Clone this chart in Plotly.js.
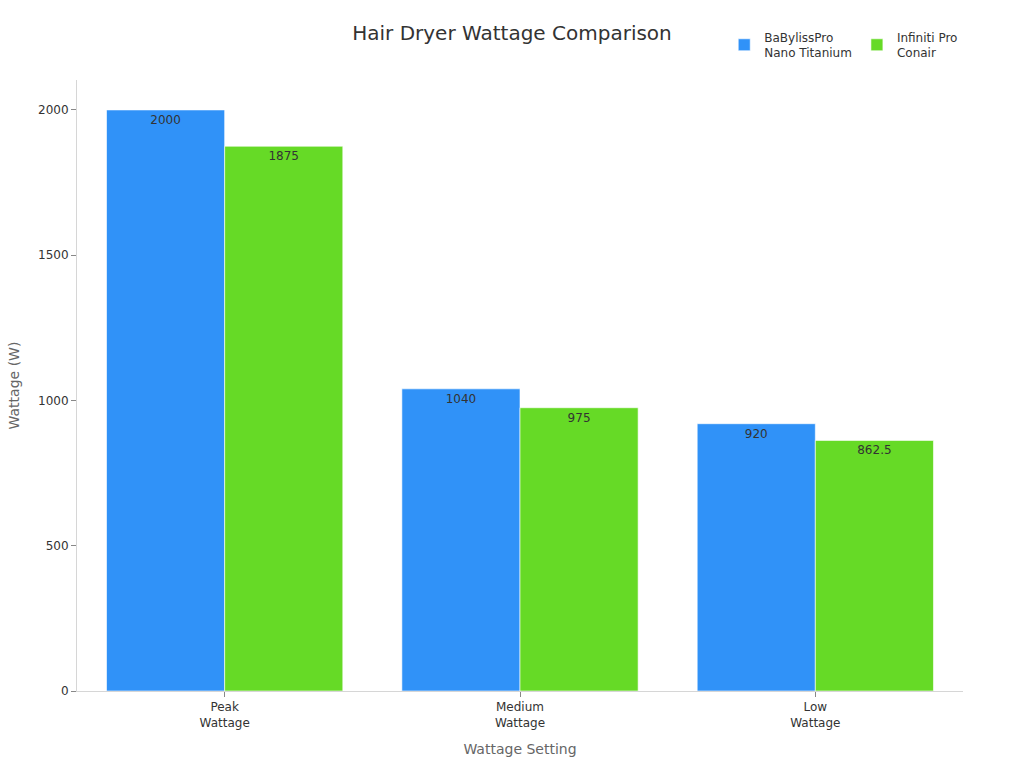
<!DOCTYPE html>
<html>
<head>
<meta charset="utf-8">
<script src="https://cdn.plot.ly/plotly-3.0.1.min.js"></script>
<style>
  html, body { margin: 0; padding: 0; background: #fff; }
  #chart { width: 1024px; height: 768px; }
</style>
</head>
<body>
<div id="chart"></div>
<script>
var categories = ["Peak<br>Wattage", "Medium<br>Wattage", "Low<br>Wattage"];
var babylissValues = [2000, 1040, 920];
var conairValues = [1875, 975, 862.5];
var seriesNames = ["BaBylissPro<br>Nano Titanium", "Infiniti Pro<br>Conair"];

function barTrace(name, values, color) {
    return {
        type: "bar",
        name: name,
        x: categories,
        y: values,
        text: values.map(function (v) { return String(v); }),
        textposition: "inside",
        insidetextanchor: "end",
        textangle: 0,
        textfont: {family: "DejaVu Sans", size: 12, color: "#333333"},
        marker: {color: color, line: {color: "rgba(255,255,255,0.6)", width: 1}},
        hoverinfo: "x+y+name"
    };
}

var data = [
    barTrace(seriesNames[0], babylissValues, "#3092F8"),
    barTrace(seriesNames[1], conairValues, "#66DA26")
];

var layout = {
    width: 1024,
    height: 768,
    font: {family: "DejaVu Sans", size: 12, color: "#333333"},
    paper_bgcolor: "#ffffff",
    plot_bgcolor: "#ffffff",
    margin: {l: 77, r: 61, t: 80, b: 77, autoexpand: false},
    title: {
        text: "Hair Dryer Wattage Comparison",
        font: {size: 20, color: "#333333"},
        x: 0.5,
        xanchor: "center",
        y: 0.966
    },
    barmode: "group",
    bargap: 0.2,
    bargroupgap: 0,
    showlegend: true,
    legend: {
        orientation: "h",
        x: 0.7305,
        xanchor: "left",
        y: 1.057,
        yanchor: "middle",
        font: {size: 12, color: "#333333"},
        itemwidth: 30
    },
    xaxis: {
        title: {text: "Wattage Setting", font: {size: 14, color: "#666666"}, standoff: 15},
        showline: true,
        linecolor: "#d6d6d6",
        ticks: "outside",
        ticklen: 5,
        tickcolor: "#888888",
        showgrid: false,
        tickfont: {size: 12, color: "#333333"}
    },
    yaxis: {
        title: {text: "Wattage (W)", font: {size: 14, color: "#666666"}, standoff: 15},
        showline: true,
        linecolor: "#d6d6d6",
        ticks: "outside",
        ticklen: 5,
        tickcolor: "#888888",
        showgrid: false,
        zeroline: false,
        tickvals: [0, 500, 1000, 1500, 2000],
        range: [0, 2103],
        tickfont: {size: 12, color: "#333333"}
    }
};

Plotly.newPlot("chart", data, layout, {displayModeBar: false});
</script>
</body>
</html>
